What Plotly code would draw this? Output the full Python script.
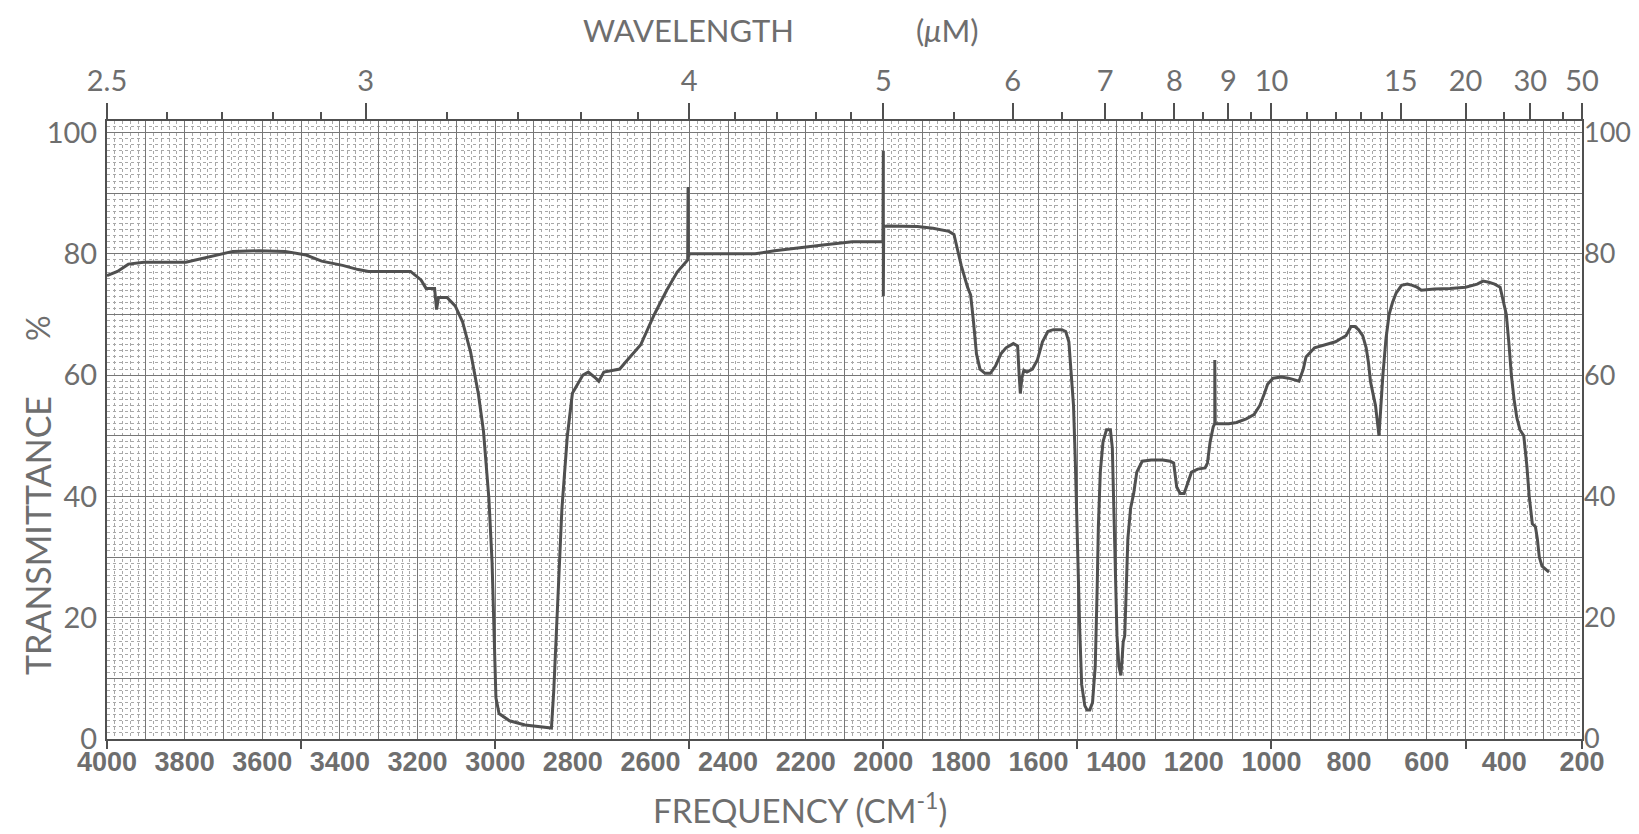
import plotly.graph_objects as go

# IR spectrum: frequency (cm-1) and transmittance (%)
freq = [
    4000, 3973, 3945, 3905, 3797, 3757, 3716, 3676, 3609, 3541, 3487, 3447,
    3393, 3353, 3326, 3218, 3191, 3178, 3156, 3151, 3146, 3124, 3103, 3084,
    3063, 3043, 3030, 3016, 3008, 3003, 2998, 2990, 2963, 2923, 2882, 2855,
    2849, 2841, 2828, 2814, 2801, 2774, 2760, 2741, 2733, 2720, 2679, 2666,
    2625, 2590, 2558, 2531, 2509, 2504, 2503, 2502, 2500, 2480, 2400, 2330,
    2280, 2220, 2150, 2080, 2010, 2001, 2000, 2000, 1999, 1990, 1950, 1912,
    1872, 1831, 1818, 1810, 1799, 1783, 1775, 1768, 1760, 1751, 1738, 1724,
    1711, 1697, 1684, 1665, 1654, 1650, 1647, 1643, 1638, 1630, 1616, 1603,
    1590, 1576, 1562, 1540, 1530, 1522, 1515, 1510, 1505, 1500, 1494, 1489,
    1481, 1475, 1468, 1461, 1454, 1449, 1446, 1441, 1434, 1425, 1415, 1410,
    1406, 1402, 1398, 1393, 1388, 1385, 1382, 1378, 1375, 1370, 1363, 1355,
    1347, 1333, 1310, 1280, 1261, 1252, 1244, 1235, 1225, 1217, 1206, 1190,
    1171, 1165, 1158, 1150, 1146, 1146, 1145, 1132, 1110, 1090, 1065, 1045,
    1030, 1018, 1010, 996, 975, 956, 940, 929, 918, 911, 889, 865, 835, 822,
    808, 795, 785, 776, 765, 756, 750, 745, 741, 737, 732, 727, 723, 718,
    713, 705, 697, 688, 679, 665, 650, 637, 625, 614, 580, 540, 500, 470,
    455, 440, 425, 411, 402, 395, 388, 382, 375, 368, 360, 350, 342, 336,
    328, 320, 315, 310, 303, 295, 285,
]
trans = [
    76.4, 77.1, 78.3, 78.6, 78.6, 79.2, 79.8, 80.4, 80.5, 80.4, 79.8, 78.8,
    78.1, 77.4, 77.1, 77.1, 75.7, 74.3, 74.3, 70.8, 72.8, 72.8, 71.4, 68.8,
    63.7, 56.8, 50.7, 39.5, 29.2, 17.1, 6.8, 4.2, 3.0, 2.3, 2.0, 1.8,
    8, 20, 38, 50, 57, 60, 60.5, 59.5, 59, 60.5, 61, 62,
    65, 70, 74, 77, 78.5, 79, 91, 79.5, 80, 80, 80, 80,
    80.5, 81, 81.5, 82, 82, 82, 97, 73, 84.5, 84.6, 84.6, 84.5,
    84.2, 83.7, 83.2, 81, 78, 74.5, 73.2, 69, 63.5, 61, 60.3, 60.3,
    61.5, 63.5, 64.5, 65.2, 64.8, 60, 57, 59.5, 60.8, 60.5, 61, 62.5,
    65.5, 67.2, 67.5, 67.5, 67.2, 65.5, 60, 55, 45, 32, 18, 9,
    5.5, 4.8, 4.8, 6, 12, 25, 35, 44, 49, 51, 51, 48,
    38, 25, 17, 12, 10.5, 13, 16, 17, 22, 33, 38, 40.5,
    44, 45.8, 46, 46, 45.8, 45.5, 41.5, 40.5, 40.5, 42, 44, 44.5,
    44.7, 45.5, 49, 51.5, 52, 62.5, 52, 52, 52, 52.2, 52.8, 53.5,
    55, 57, 58.5, 59.5, 59.7, 59.5, 59.2, 59, 61, 63, 64.5, 65, 65.5, 66,
    66.5, 68, 68, 67.5, 66.5, 64.5, 62, 59, 57.5, 56.5, 55, 52, 50, 55,
    60, 66, 70, 72, 73.5, 74.8, 75, 74.8, 74.5, 74, 74.2, 74.3, 74.5, 75,
    75.5, 75.3, 75, 74.5, 72, 70, 65, 60, 56, 53, 51, 50, 45, 40,
    35.5, 35, 33, 30, 28.5, 28, 27.5,
]

# bottom frequency scale
freq_ticks = list(range(4000, 199, -100))
freq_text = [str(v) if v % 200 == 0 else "" for v in freq_ticks]
freq_marks = [4000, 3500, 3000, 2500, 2000, 1500, 1000, 500, 200]

# top wavelength scale (um)
wl_major = [2.5, 3, 4, 5, 6, 7, 8, 9, 10, 15, 20, 30, 50]
wl_minor = [2.6, 2.7, 2.8, 2.9, 3.2, 3.4, 3.6, 3.8, 4.2, 4.4, 4.6, 4.8,
            5.5, 6.5, 7.5, 8.5, 9.5, 11, 12, 13, 14, 25, 40]

t_ticks = list(range(0, 101, 10))
t_text = [str(v) if v % 20 == 0 else "" for v in t_ticks]

INK = "#505050"
TEXT = "#6e6e6e"
MAJOR_GRID = "#777777"
MINOR_GRID = "#a8a8a8"
X_RANGE = [4000, 200]
Y_RANGE = [0, 101.9]


def label(text, x, y, size=29, angle=0):
    return dict(text=text, xref="paper", yref="paper", x=x, y=y,
                xanchor="center", yanchor="middle", textangle=angle,
                showarrow=False, font=dict(size=size, color=TEXT))


fig = go.Figure()

fig.add_trace(
    go.Scatter(
        x=freq,
        y=trans,
        mode="lines",
        line=dict(color=INK, width=3),
        hoverinfo="skip",
        showlegend=False,
    )
)
# empty traces so the extra axes are set up
fig.add_trace(go.Scatter(x=[None], y=[None], xaxis="x2", yaxis="y2", showlegend=False))
fig.add_trace(go.Scatter(x=[None], y=[None], xaxis="x3", yaxis="y", showlegend=False))

fig.update_layout(
    width=1639,
    height=834,
    plot_bgcolor="white",
    paper_bgcolor="white",
    margin=dict(l=99, r=65, t=113, b=103),
    font=dict(family="Lato, Open Sans, sans-serif", size=29, color=TEXT),
    xaxis=dict(
        range=X_RANGE,
        tickmode="array",
        tickvals=freq_ticks,
        ticktext=freq_text,
        ticks="",
        tickfont=dict(family="Liberation Sans, Arial, sans-serif",
                      size=27, color=TEXT, weight="bold"),
        ticklabelstandoff=-2,
        showgrid=True,
        gridcolor=MAJOR_GRID,
        gridwidth=1,
        minor=dict(tickmode="linear", tick0=0, dtick=20, showgrid=True,
                   gridcolor=MINOR_GRID, gridwidth=1, griddash="dot"),
        showline=True,
        linecolor=INK,
        linewidth=2,
        mirror=True,
        zeroline=False,
    ),
    xaxis2=dict(
        overlaying="x",
        side="top",
        anchor="y",
        range=X_RANGE,
        tickmode="array",
        tickvals=[10000 / w for w in wl_major],
        ticktext=[f"{w:g}" for w in wl_major],
        ticks="outside",
        ticklen=17,
        tickwidth=1.5,
        tickcolor=INK,
        tickfont=dict(size=29, color=TEXT),
        minor=dict(tickmode="array", tickvals=[10000 / w for w in wl_minor],
                   ticks="outside", ticklen=8, tickwidth=1.5, tickcolor=INK,
                   showgrid=False),
        showgrid=False,
        showline=False,
        zeroline=False,
    ),
    xaxis3=dict(
        overlaying="x",
        side="bottom",
        anchor="y",
        range=X_RANGE,
        tickmode="array",
        tickvals=freq_marks,
        ticks="outside",
        ticklen=9,
        tickwidth=1.5,
        tickcolor=INK,
        showticklabels=False,
        showgrid=False,
        showline=False,
        zeroline=False,
    ),
    yaxis=dict(
        range=Y_RANGE,
        tickmode="array",
        tickvals=t_ticks,
        ticktext=t_text,
        ticks="",
        tickfont=dict(size=29, color=TEXT),
        ticklabelstandoff=2,
        showgrid=True,
        gridcolor=MAJOR_GRID,
        gridwidth=1,
        minor=dict(tickmode="linear", tick0=0, dtick=1, showgrid=True,
                   gridcolor=MINOR_GRID, gridwidth=1, griddash="dot"),
        showline=True,
        linecolor=INK,
        linewidth=2,
        mirror=True,
        zeroline=False,
    ),
    yaxis2=dict(
        overlaying="y",
        side="right",
        anchor="x",
        range=Y_RANGE,
        tickmode="array",
        tickvals=t_ticks,
        ticktext=t_text,
        ticks="",
        tickfont=dict(size=27, color=TEXT),
        ticklabelstandoff=1,
        showgrid=False,
        showline=False,
        zeroline=False,
    ),
    annotations=[
        label("WAVELENGTH", 0.394, 1.148, size=31),
        label("(<i>μ</i>M)", 0.570, 1.148, size=31),
        label("FREQUENCY (CM<sup>-1</sup>)", 0.47, -0.112, size=33),
        label("TRANSMITTANCE", -0.0475, 0.33, size=34, angle=-90),
        label("%", -0.0475, 0.665, size=32, angle=-90),
    ],
)

fig.write_html("out.html")
